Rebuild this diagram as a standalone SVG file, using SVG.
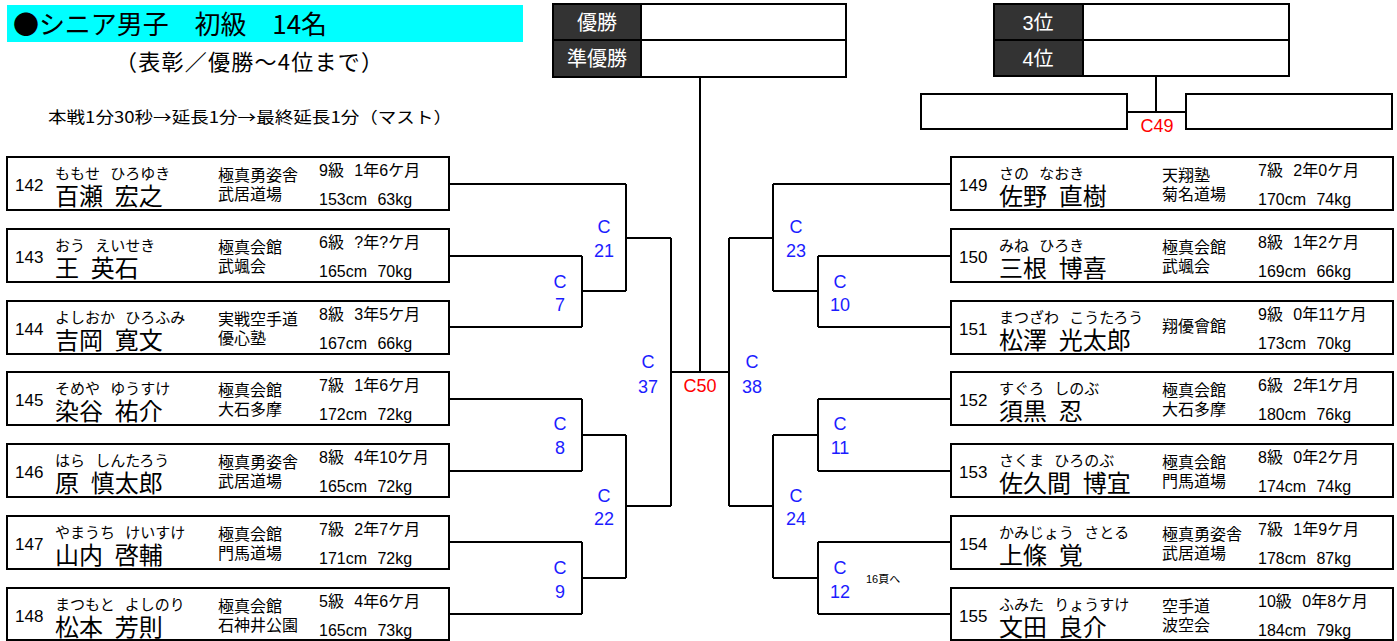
<svg xmlns="http://www.w3.org/2000/svg" width="1397" height="641" viewBox="0 0 1397 641">
<style>
text{font-family:"Liberation Sans","Noto Sans CJK JP",sans-serif;fill:#000}
.cjk{font-family:"Noto Sans CJK JP","Liberation Sans",sans-serif}
.box{fill:#fff;stroke:#000;stroke-width:2}
.hd{fill:#333;stroke:#000;stroke-width:2}
.hw{fill:#fff;stroke:#000;stroke-width:2}
.ht{fill:#fff;font-size:20px;text-anchor:middle}
.num{font-size:17px}
.kana{font-size:15px;word-spacing:6px}
.name{font-size:24px;word-spacing:5px}
.dojo{font-size:16px}
.grade{font-size:16px;word-spacing:6px}
.cl{fill:#1c1cff;font-size:18px;text-anchor:middle}
.red{fill:#ff0000;font-size:18px;text-anchor:middle}
.ln{fill:none;stroke:#000;stroke-width:2}
</style>

<g id="title">
<rect x="7" y="5" width="516" height="37" fill="#00ffff"/>
<text class="cjk" x="13" y="34" font-size="26" textLength="314" lengthAdjust="spacing">●シニア男子　初級　14名</text>
<text class="cjk" x="115" y="70" font-size="22" textLength="268" lengthAdjust="spacing">（表彰／優勝～4位まで）</text>
<text class="cjk" x="48" y="123" font-size="16" textLength="404" lengthAdjust="spacingAndGlyphs">本戦1分30秒→延長1分→最終延長1分（マスト）</text>
</g>

<g id="winner">
<rect class="hd" x="553" y="4" width="88" height="36"/><rect class="hw" x="641" y="4" width="205" height="36"/>
<text class="ht" x="597" y="30">優勝</text>
</g>
<g id="runnerup">
<rect class="hd" x="553" y="40" width="88" height="37"/><rect class="hw" x="641" y="40" width="205" height="37"/>
<text class="ht" x="597" y="66">準優勝</text>
</g>
<g id="third">
<rect class="hd" x="994" y="4" width="89" height="36"/><rect class="hw" x="1083" y="4" width="206" height="36"/>
<text class="ht" x="1038" y="30">3位</text>
</g>
<g id="fourth">
<rect class="hd" x="994" y="40" width="89" height="36"/><rect class="hw" x="1083" y="40" width="206" height="36"/>
<text class="ht" x="1038" y="66">4位</text>
</g>
<g id="bronzeA"><rect class="box" x="921" y="94" width="206" height="35"/></g>
<g id="bronzeB"><rect class="box" x="1186" y="94" width="206" height="35"/></g>

<g id="connectors" class="ln">
<path class="ln" d="M449,184H626M449,256H582M449,327H582M582,256V327M582,291H626M626,184V291M626,238H671"/>
<path class="ln" d="M449,399H582M449,471H582M582,399V471M582,435H626M449,542H582M449,614H582M582,542V614M582,578H626M626,435V578M626,506H671"/>
<path class="ln" d="M671,238V506M671,372H729M729,238V506M700,77V372"/>
<path class="ln" d="M729,238H773M773,184V291M773,184H951M773,291H818M818,256V327M818,256H951M818,327H951"/>
<path class="ln" d="M729,506H773M773,435V578M773,435H818M818,399V471M818,399H951M818,471H951M773,578H818M818,542V614M818,542H951M818,614H951"/>
<path class="ln" d="M1156,76V112M1127,112H1186"/>
</g>

<g id="labels">
<text class="cl" x="604" y="233">C</text><text class="cl" x="604" y="257">21</text>
<text class="cl" x="560" y="288">C</text><text class="cl" x="560" y="311">7</text>
<text class="cl" x="560" y="430">C</text><text class="cl" x="560" y="454">8</text>
<text class="cl" x="604" y="502">C</text><text class="cl" x="604" y="525">22</text>
<text class="cl" x="560" y="574">C</text><text class="cl" x="560" y="598">9</text>
<text class="cl" x="648" y="368">C</text><text class="cl" x="648" y="393">37</text>
<text class="red" x="700" y="392">C50</text>
<text class="cl" x="752" y="368">C</text><text class="cl" x="752" y="393">38</text>
<text class="cl" x="796" y="233">C</text><text class="cl" x="796" y="257">23</text>
<text class="cl" x="840" y="288">C</text><text class="cl" x="840" y="311">10</text>
<text class="cl" x="840" y="430">C</text><text class="cl" x="840" y="454">11</text>
<text class="cl" x="796" y="502">C</text><text class="cl" x="796" y="525">24</text>
<text class="cl" x="840" y="574">C</text><text class="cl" x="840" y="598">12</text>
<text x="866" y="583" font-size="11">16頁へ</text>
<text class="red" x="1157" y="132">C49</text>
</g>

<g id="p142" transform="translate(7,157)"><rect class="box" width="442" height="53"/><text class="num" x="8" y="34">142</text><text class="kana" x="48" y="22">ももせ ひろゆき</text><text class="name" x="48" y="48">百瀬 宏之</text><text class="dojo" x="211" y="24">極真勇姿舎</text><text class="dojo" x="211" y="43">武居道場</text><text class="grade" x="312" y="19">9級 1年6ケ月</text><text class="grade" x="312" y="48">153cm 63kg</text></g>
<g id="p143" transform="translate(7,229)"><rect class="box" width="442" height="53"/><text class="num" x="8" y="34">143</text><text class="kana" x="48" y="22">おう えいせき</text><text class="name" x="48" y="48">王 英石</text><text class="dojo" x="211" y="24">極真会館</text><text class="dojo" x="211" y="43">武颯会</text><text class="grade" x="312" y="19">6級 ?年?ケ月</text><text class="grade" x="312" y="48">165cm 70kg</text></g>
<g id="p144" transform="translate(7,301)"><rect class="box" width="442" height="53"/><text class="num" x="8" y="34">144</text><text class="kana" x="48" y="22">よしおか ひろふみ</text><text class="name" x="48" y="48">吉岡 寛文</text><text class="dojo" x="211" y="24">実戦空手道</text><text class="dojo" x="211" y="43">優心塾</text><text class="grade" x="312" y="19">8級 3年5ケ月</text><text class="grade" x="312" y="48">167cm 66kg</text></g>
<g id="p145" transform="translate(7,372)"><rect class="box" width="442" height="53"/><text class="num" x="8" y="34">145</text><text class="kana" x="48" y="22">そめや ゆうすけ</text><text class="name" x="48" y="48">染谷 祐介</text><text class="dojo" x="211" y="24">極真会館</text><text class="dojo" x="211" y="43">大石多摩</text><text class="grade" x="312" y="19">7級 1年6ケ月</text><text class="grade" x="312" y="48">172cm 72kg</text></g>
<g id="p146" transform="translate(7,444)"><rect class="box" width="442" height="53"/><text class="num" x="8" y="34">146</text><text class="kana" x="48" y="22">はら しんたろう</text><text class="name" x="48" y="48">原 慎太郎</text><text class="dojo" x="211" y="24">極真勇姿舎</text><text class="dojo" x="211" y="43">武居道場</text><text class="grade" x="312" y="19">8級 4年10ケ月</text><text class="grade" x="312" y="48">165cm 72kg</text></g>
<g id="p147" transform="translate(7,516)"><rect class="box" width="442" height="53"/><text class="num" x="8" y="34">147</text><text class="kana" x="48" y="22">やまうち けいすけ</text><text class="name" x="48" y="48">山内 啓輔</text><text class="dojo" x="211" y="24">極真会館</text><text class="dojo" x="211" y="43">門馬道場</text><text class="grade" x="312" y="19">7級 2年7ケ月</text><text class="grade" x="312" y="48">171cm 72kg</text></g>
<g id="p148" transform="translate(7,588)"><rect class="box" width="442" height="52"/><text class="num" x="8" y="34">148</text><text class="kana" x="48" y="22">まつもと よしのり</text><text class="name" x="48" y="48">松本 芳則</text><text class="dojo" x="211" y="24">極真会館</text><text class="dojo" x="211" y="43">石神井公園</text><text class="grade" x="312" y="19">5級 4年6ケ月</text><text class="grade" x="312" y="48">165cm 73kg</text></g>

<g id="p149" transform="translate(951,157)"><rect class="box" width="442" height="53"/><text class="num" x="8" y="34">149</text><text class="kana" x="48" y="22">さの なおき</text><text class="name" x="48" y="48">佐野 直樹</text><text class="dojo" x="211" y="24">天翔塾</text><text class="dojo" x="211" y="43">菊名道場</text><text class="grade" x="307" y="19">7級 2年0ケ月</text><text class="grade" x="307" y="48">170cm 74kg</text></g>
<g id="p150" transform="translate(951,229)"><rect class="box" width="442" height="53"/><text class="num" x="8" y="34">150</text><text class="kana" x="48" y="22">みね ひろき</text><text class="name" x="48" y="48">三根 博喜</text><text class="dojo" x="211" y="24">極真会館</text><text class="dojo" x="211" y="43">武颯会</text><text class="grade" x="307" y="19">8級 1年2ケ月</text><text class="grade" x="307" y="48">169cm 66kg</text></g>
<g id="p151" transform="translate(951,301)"><rect class="box" width="442" height="53"/><text class="num" x="8" y="34">151</text><text class="kana" x="48" y="22">まつざわ こうたろう</text><text class="name" x="48" y="48">松澤 光太郎</text><text class="dojo" x="211" y="31">翔優會館</text><text class="grade" x="307" y="19">9級 0年11ケ月</text><text class="grade" x="307" y="48">173cm 70kg</text></g>
<g id="p152" transform="translate(951,372)"><rect class="box" width="442" height="53"/><text class="num" x="8" y="34">152</text><text class="kana" x="48" y="22">すぐろ しのぶ</text><text class="name" x="48" y="48">須黒 忍</text><text class="dojo" x="211" y="24">極真会館</text><text class="dojo" x="211" y="43">大石多摩</text><text class="grade" x="307" y="19">6級 2年1ケ月</text><text class="grade" x="307" y="48">180cm 76kg</text></g>
<g id="p153" transform="translate(951,444)"><rect class="box" width="442" height="53"/><text class="num" x="8" y="34">153</text><text class="kana" x="48" y="22">さくま ひろのぶ</text><text class="name" x="48" y="48">佐久間 博宜</text><text class="dojo" x="211" y="24">極真会館</text><text class="dojo" x="211" y="43">門馬道場</text><text class="grade" x="307" y="19">8級 0年2ケ月</text><text class="grade" x="307" y="48">174cm 74kg</text></g>
<g id="p154" transform="translate(951,516)"><rect class="box" width="442" height="53"/><text class="num" x="8" y="34">154</text><text class="kana" x="48" y="22">かみじょう さとる</text><text class="name" x="48" y="48">上條 覚</text><text class="dojo" x="211" y="24">極真勇姿舎</text><text class="dojo" x="211" y="43">武居道場</text><text class="grade" x="307" y="19">7級 1年9ケ月</text><text class="grade" x="307" y="48">178cm 87kg</text></g>
<g id="p155" transform="translate(951,588)"><rect class="box" width="442" height="52"/><text class="num" x="8" y="34">155</text><text class="kana" x="48" y="22">ふみた りょうすけ</text><text class="name" x="48" y="48">文田 良介</text><text class="dojo" x="211" y="24">空手道</text><text class="dojo" x="211" y="43">波空会</text><text class="grade" x="307" y="19">10級 0年8ケ月</text><text class="grade" x="307" y="48">184cm 79kg</text></g>
</svg>
